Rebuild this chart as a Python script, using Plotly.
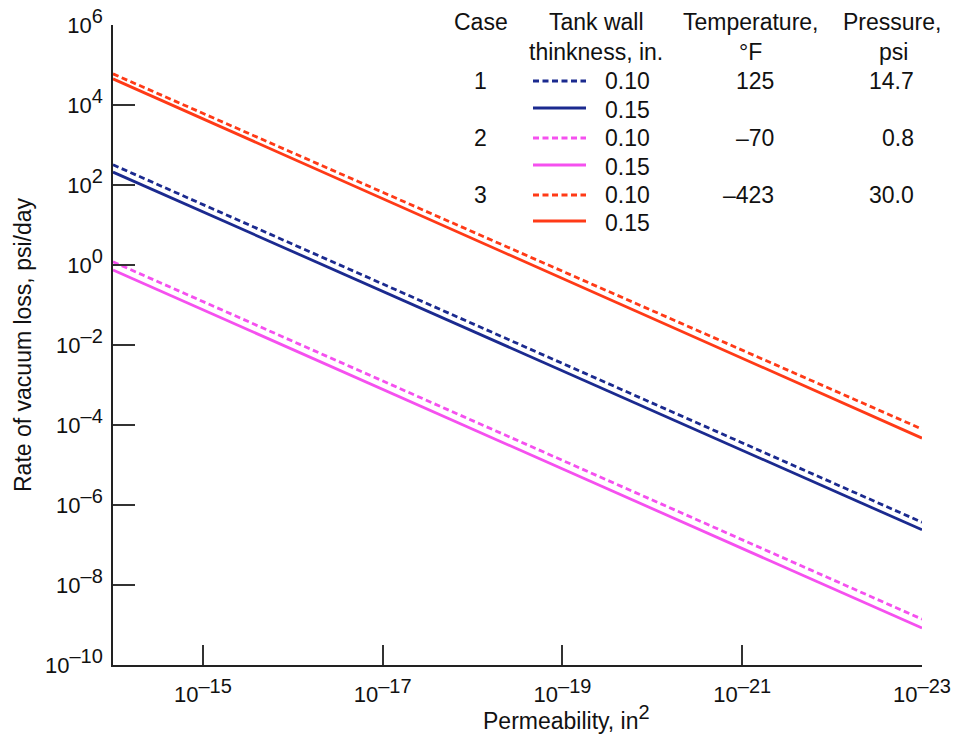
import plotly.graph_objects as go

# ---------------- data ----------------
permeability = [1e-14, 1e-23]            # in^2
case1_t010 = [3.2e2, 3.7e-7]             # psi/day
case1_t015 = [2.1e2, 2.4e-7]
case2_t010 = [1.2, 1.4e-9]
case2_t015 = [0.75, 8.4e-10]
case3_t010 = [6.0e4, 7.9e-5]
case3_t015 = [4.5e4, 4.7e-5]

case_labels = ["1", "2", "3"]
thickness_labels = ["0.10", "0.15"]
temperature_labels = ["125", "–70", "–423"]
pressure_labels = ["14.7", "0.8", "30.0"]

x_tick_exps = [-15, -17, -19, -21, -23]
y_tick_exps = [-10, -8, -6, -4, -2, 0, 2, 4, 6]

# ---------------- styling ----------------
FONT = "Liberation Sans, Arial, Helvetica, sans-serif"
FS = 22      # tick labels
FT = 23      # titles / legend table
SUP = 20
BLUE = "#1b2a8f"
PINK = "#f550ef"
RED = "#ff3a17"
LW = 2.8
DASH = "6px,3.5px"

W, H = 953, 740
L, R, T, B = 113, 922, 25, 665


def pxx(x):
    return (x - L) / (R - L)


def pxy(y):
    return (B - y) / (B - T)


def pow10(e):
    s = ("–" + str(-e)) if e < 0 else str(e)
    return f"10<sup><span style='font-size:{SUP}px'>{s}</span></sup>"


series = [
    (case1_t010, BLUE, DASH), (case1_t015, BLUE, "solid"),
    (case2_t010, PINK, DASH), (case2_t015, PINK, "solid"),
    (case3_t010, RED, DASH), (case3_t015, RED, "solid"),
]

fig = go.Figure()
for vals, col, dash in series:
    fig.add_trace(go.Scatter(x=permeability, y=vals, mode="lines",
                             line=dict(color=col, width=LW, dash=dash),
                             showlegend=False, hoverinfo="skip"))

fig.update_layout(
    width=W, height=H,
    margin=dict(l=L, r=W - R, t=T, b=H - B, pad=0),
    paper_bgcolor="white", plot_bgcolor="white",
    font=dict(family=FONT, size=FS, color="#111"),
    showlegend=False,
)
fig.update_xaxes(
    type="log", range=[-14, -23], showgrid=False, zeroline=False,
    showline=True, linecolor="#222", linewidth=1.5,
    ticks="inside", ticklen=20, tickwidth=1.5, tickcolor="#333",
    tickvals=[10.0 ** e for e in x_tick_exps],
    ticktext=[pow10(e) for e in x_tick_exps],
    tickfont=dict(family=FONT, size=FS, color="#111"),
    ticklabelstandoff=9, automargin=False,
)
fig.update_yaxes(
    type="log", range=[-10, 6], showgrid=False, zeroline=False,
    showline=True, linecolor="#222", linewidth=1.5,
    ticks="inside", ticklen=22, tickwidth=1.5, tickcolor="#333",
    tickvals=[10.0 ** e for e in y_tick_exps],
    ticktext=[pow10(e) for e in y_tick_exps],
    tickfont=dict(family=FONT, size=FS, color="#111"),
    ticklabelstandoff=4, automargin=False,
)

ann = []


def text(s, x, y, xa="center"):
    ann.append(dict(text=s, x=pxx(x), y=pxy(y), xref="paper", yref="paper",
                    xanchor=xa, yanchor="middle", showarrow=False,
                    font=dict(family=FONT, size=FT, color="#111")))


# axis titles
ann.append(dict(text=f"Permeability, in<sup><span style='font-size:{SUP}px'>2</span></sup>",
                x=pxx(566), y=pxy(717), xref="paper", yref="paper",
                xanchor="center", yanchor="middle", showarrow=False,
                font=dict(family=FONT, size=FT, color="#111")))
ann.append(dict(text="Rate of vacuum loss, psi/day", textangle=-90,
                x=pxx(23), y=pxy(345), xref="paper", yref="paper",
                xanchor="center", yanchor="middle", showarrow=False,
                font=dict(family=FONT, size=FT, color="#111")))

# legend table headers
text("Case", 481, 22)
text("Tank wall", 596, 22)
text("thinkness, in.", 596, 52)
text("Temperature,", 751, 22)
text("°F", 750, 52)
text("Pressure,", 892, 22)
text("psi", 893, 52)

row_y = [81, 110, 138, 167, 195, 223]
shapes = []
for i in range(3):
    text(case_labels[i], 480, row_y[2 * i])
    text(temperature_labels[i], 776, row_y[2 * i], "right")
    text(pressure_labels[i], 916, row_y[2 * i], "right")
for k, (vals, col, dash) in enumerate(series):
    text(thickness_labels[k % 2], 603, row_y[k], "left")
    ly = row_y[k] - (2 if dash == "solid" else 0)
    shapes.append(dict(type="line", xref="paper", yref="paper",
                       x0=pxx(533), x1=pxx(586), y0=pxy(ly), y1=pxy(ly),
                       line=dict(color=col, width=LW, dash=dash)))

fig.update_layout(annotations=ann, shapes=shapes)
fig.write_html("out.html")
